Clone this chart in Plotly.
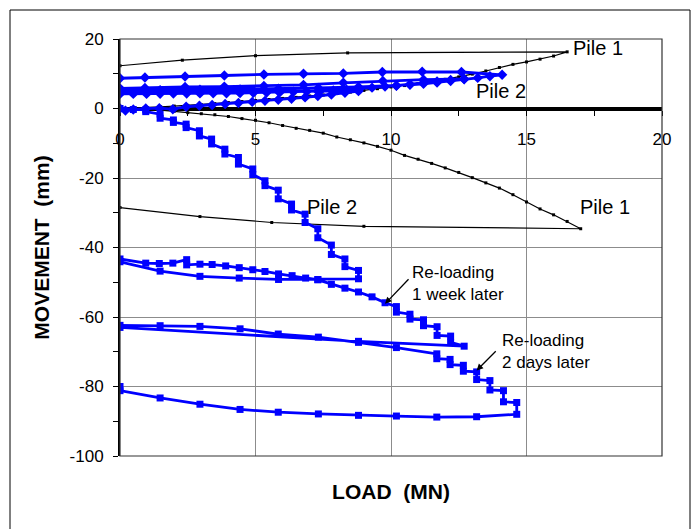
import plotly.graph_objects as go

# ---------------- data ----------------
# Pile 1, upward movement: loading in 0.5 MN steps, then unloading
P1_UP_LOAD_X = [0, 0.5, 1, 1.5, 2, 2.5, 3, 3.5, 4, 4.5, 5, 5.5, 6, 6.5, 7, 7.5, 8, 8.5,
                9, 9.5, 10, 10.5, 11, 11.5, 12, 12.5, 13, 13.5, 14, 14.5, 15, 15.5, 16, 16.5]
P1_UP_LOAD_Y = [0, 0.1, 0.3, 0.5, 0.7, 0.9, 1.1, 1.4, 1.7, 2.0, 2.3, 2.6, 2.9, 3.2, 3.6, 3.9, 4.3, 4.7,
                5.2, 5.7, 6.2, 6.6, 7.2, 7.8, 8.4, 9.1, 9.9, 10.8, 11.8, 12.7, 13.4, 14.2, 15.1, 16.3]
P1_UP_UNLOAD_X = [8.4, 5.0, 2.3, 0]
P1_UP_UNLOAD_Y = [16.0, 15.2, 13.9, 12.3]

# Pile 1, downward movement
P1_DN_LOAD_X = [0, 0.5, 1, 1.5, 2, 2.5, 3, 3.5, 4, 4.5, 5, 5.5, 6, 6.5, 7, 7.5, 8, 8.5,
                9, 9.5, 10, 10.5, 11, 11.5, 12, 12.5, 13, 13.5, 14, 14.5, 15, 15.5, 16, 16.5, 17]
P1_DN_LOAD_Y = [0, -0.1, -0.3, -0.5, -0.8, -1.2, -1.5, -1.8, -2.3, -2.9, -3.4, -4.1, -4.9, -5.7,
                -6.3, -7.1, -8.2, -9.0, -9.9, -10.9, -12.0, -13.5, -14.6, -15.8, -17.1, -18.4,
                -19.9, -21.4, -22.9, -24.8, -26.9, -28.9, -30.6, -32.5, -34.6]
P1_DN_UNLOAD_X = [9.0, 5.6, 2.95, 0]
P1_DN_UNLOAD_Y = [-33.9, -32.8, -31.1, -28.5]

# Pile 2, upward movement (three load cycles)
P2_UP_LOAD1_X = [0, 0.2, 0.49, 0.95, 1.45, 1.95, 2.44, 2.93, 3.4, 3.88, 4.37, 4.88, 5.35, 5.84,
                 6.33, 6.83, 7.3, 7.8, 8.3, 8.8]
P2_UP_LOAD1_Y = [0, -0.6, -0.3, 0.0, 0.1, -0.2, 0.5, 0.8, 1.0, 1.3, 1.6, 1.9, 2.2, 2.5,
                 2.8, 3.2, 3.6, 4.0, 4.5, 5.0]
P2_UP_UNLOAD1_X = [7.3, 5.85, 4.4, 2.95, 1.48, 0]
P2_UP_UNLOAD1_Y = [5.0, 4.9, 4.8, 4.8, 4.7, 4.7]
P2_UP_RELOAD1_X = [0, 0.49, 0.98, 1.48, 1.97, 2.46, 2.95, 3.44, 3.93, 4.43, 4.92, 5.41, 5.9, 6.4,
                   6.89, 7.38, 7.87, 8.36, 8.85, 9.3, 9.78, 10.2, 10.7, 11.2, 11.7, 12.2, 12.7]
P2_UP_RELOAD1_Y = [4.2, 4.2, 4.2, 4.25, 4.3, 4.3, 4.35, 4.4, 4.4, 4.45, 4.5, 4.6, 4.7, 4.8,
                   4.9, 5.0, 5.2, 5.4, 5.7, 6.0, 6.3, 6.6, 7.0, 7.4, 7.8, 8.2, 8.5]
P2_UP_UNLOAD2_X = [11.2, 9.7, 8.24, 6.77, 5.31, 3.85, 2.4, 0.92, 0]
P2_UP_UNLOAD2_Y = [8.3, 7.9, 7.4, 6.8, 6.5, 6.3, 6.2, 5.9, 5.8]
P2_UP_RELOAD2_X = [0, 1.48, 2.95, 4.43, 5.85, 7.32, 8.8, 10.2, 10.7, 11.2, 11.7, 12.2, 12.7,
                   13.2, 13.65, 14.1]
P2_UP_RELOAD2_Y = [5.2, 5.3, 5.4, 5.5, 5.7, 5.9, 6.2, 6.5, 6.8, 7.1, 7.5, 7.9, 8.4,
                   8.8, 9.3, 9.7]
P2_UP_UNLOAD3_X = [12.6, 11.15, 9.68, 8.24, 6.77, 5.31, 3.85, 2.4, 0.92, 0]
P2_UP_UNLOAD3_Y = [10.5, 10.6, 10.5, 10.1, 10.0, 9.8, 9.5, 9.2, 8.9, 8.7]

# Pile 2, downward movement (each load step: start and end of hold)
P2_DN_LOAD1_X = [0, 0.49, 0.95, 0.95, 1.48, 1.48, 1.97, 1.97, 2.44, 2.44, 2.93, 2.93, 3.38, 3.38,
                 3.87, 3.87, 4.37, 4.37, 4.9, 4.9, 5.35, 5.35, 5.84, 5.84, 6.33, 6.33, 6.83, 6.83,
                 7.3, 7.3, 7.8, 7.8, 8.3, 8.3, 8.8, 8.8]
P2_DN_LOAD1_Y = [0, -0.3, -0.4, -0.9, -1.6, -2.8, -3.3, -4.0, -4.5, -5.5, -6.4, -7.9, -8.8, -10.2,
                 -11.7, -13.1, -14.1, -16.0, -17.4, -19.0, -20.8, -22.2, -23.5, -26.0, -27.5, -29.2,
                 -30.4, -32.8, -34.6, -37.2, -39.3, -42.0, -43.3, -45.5, -46.6, -49.0]
P2_DN_UNLOAD1_X = [7.3, 5.85, 4.4, 2.95, 1.48, 0]
P2_DN_UNLOAD1_Y = [-49.2, -49.2, -48.8, -48.3, -46.8, -44.1]
P2_DN_RELOAD1_X = [0, 0.95, 1.45, 1.95, 2.46, 2.46, 2.95, 3.4, 3.9, 4.4, 4.9, 5.35, 5.85, 6.35,
                   6.85, 7.3, 7.8, 8.3, 8.8, 9.3, 9.78, 10.2, 10.2, 10.7, 10.7, 11.2, 11.2,
                   11.7, 11.7, 12.2, 12.2, 12.7]
P2_DN_RELOAD1_Y = [-43.3, -44.5, -44.6, -44.5, -43.5, -45.0, -44.8, -44.9, -45.3, -45.8, -46.4,
                   -46.9, -47.6, -48.1, -48.8, -49.3, -50.6, -51.7, -52.8, -54.2, -55.9, -57.0,
                   -58.6, -59.2, -60.6, -60.8, -62.5, -62.8, -65.3, -65.5, -67.3, -68.4]
P2_DN_UNLOAD2_X = [8.8, 0]
P2_DN_UNLOAD2_Y = [-67.0, -63.0]
P2_DN_RELOAD2_X = [0, 1.48, 2.95, 4.43, 5.84, 7.32, 8.8, 10.2, 11.69, 11.69, 12.18, 12.18,
                   12.67, 12.67, 13.16, 13.16, 13.65, 13.65, 14.15, 14.15, 14.64, 14.64]
P2_DN_RELOAD2_Y = [-62.4, -62.5, -62.7, -63.4, -64.9, -65.8, -67.3, -68.8, -70.6, -72.0, -72.2,
                   -73.7, -73.9, -75.6, -75.8, -78.0, -78.3, -81.0, -81.2, -84.4, -84.6, -88.0]
P2_DN_UNLOAD3_X = [13.16, 11.69, 10.2, 8.8, 7.32, 5.84, 4.43, 2.95, 1.48, 0, 0]
P2_DN_UNLOAD3_Y = [-88.7, -88.8, -88.5, -88.3, -87.9, -87.4, -86.6, -85.1, -83.3, -81.2, -80.0]

X_TICKS = [0, 5, 10, 15, 20]
Y_TICKS = [20, 0, -20, -40, -60, -80, -100]

# ---------------- figure ----------------
BLUE = "#0000FF"
FONT = "Liberation Sans, Arial, sans-serif"

fig = go.Figure()


def add_series(xs, ys, color, width, symbol, size, name, xaxis="x"):
    fig.add_trace(go.Scatter(
        x=xs, y=ys, mode="lines+markers", name=name, showlegend=False,
        line=dict(color=color, width=width),
        marker=dict(symbol=symbol, size=size, color=color, line=dict(width=0)),
        hoverinfo="skip", xaxis=xaxis,
    ))


add_series(P1_UP_LOAD_X + P1_UP_UNLOAD_X, P1_UP_LOAD_Y + P1_UP_UNLOAD_Y,
           "black", 1.2, "square", 3, "Pile 1 up")
add_series(P1_DN_LOAD_X + P1_DN_UNLOAD_X, P1_DN_LOAD_Y + P1_DN_UNLOAD_Y,
           "black", 1.2, "square", 3, "Pile 1 down")

p2_up_x = (P2_UP_LOAD1_X + P2_UP_UNLOAD1_X + P2_UP_RELOAD1_X + P2_UP_UNLOAD2_X
           + P2_UP_RELOAD2_X + P2_UP_UNLOAD3_X)
p2_up_y = (P2_UP_LOAD1_Y + P2_UP_UNLOAD1_Y + P2_UP_RELOAD1_Y + P2_UP_UNLOAD2_Y
           + P2_UP_RELOAD2_Y + P2_UP_UNLOAD3_Y)
add_series(p2_up_x, p2_up_y, BLUE, 2.8, "diamond", 8, "Pile 2 up")

p2_dn_x = (P2_DN_LOAD1_X + P2_DN_UNLOAD1_X + P2_DN_RELOAD1_X + P2_DN_UNLOAD2_X
           + P2_DN_RELOAD2_X + P2_DN_UNLOAD3_X)
p2_dn_y = (P2_DN_LOAD1_Y + P2_DN_UNLOAD1_Y + P2_DN_RELOAD1_Y + P2_DN_UNLOAD2_Y
           + P2_DN_RELOAD2_Y + P2_DN_UNLOAD3_Y)
add_series(p2_dn_x, p2_dn_y, BLUE, 2.8, "square", 7, "Pile 2 down")

# empty trace so the crossing x axis (at zero movement) is drawn
fig.add_trace(go.Scatter(x=[], y=[], xaxis="x2", showlegend=False, hoverinfo="skip"))

fig.update_layout(
    width=692, height=529,
    margin=dict(l=120, r=30, t=39, b=73),
    paper_bgcolor="white", plot_bgcolor="white",
    font=dict(family=FONT, color="black"),
    xaxis=dict(
        range=[0, 20], tickvals=X_TICKS, showticklabels=False, ticks="",
        showgrid=True, gridcolor="#8c8c8c", gridwidth=1,
        zeroline=False, showline=False,
        title=dict(text="<b>LOAD\u00a0\u00a0(MN)</b>", font=dict(size=21, family=FONT),
                   standoff=28),
    ),
    xaxis2=dict(
        overlaying="x", matches="x", anchor="free", position=100 / 120, side="bottom",
        range=[0, 20], tickvals=X_TICKS, ticktext=[str(v) for v in X_TICKS],
        ticks="outside", ticklen=5, tickcolor="black", tickwidth=1,
        minor=dict(ticks="outside", dtick=2.5, ticklen=5, tickcolor="black", showgrid=False),
        tickfont=dict(size=17, family=FONT), ticklabelstandoff=9,
        showgrid=False, zeroline=False,
        showline=True, linecolor="black", linewidth=4, layer="below traces",
    ),
    yaxis=dict(
        range=[-100, 20], tickvals=Y_TICKS, ticktext=[str(v) for v in Y_TICKS],
        ticks="outside", ticklen=5, tickcolor="black",
        minor=dict(ticks="outside", dtick=10, ticklen=5, tickcolor="black", showgrid=False),
        tickfont=dict(size=17, family=FONT), ticklabelstandoff=6,
        showgrid=True, gridcolor="#8c8c8c", gridwidth=1, zeroline=False,
        showline=True, linecolor="black", linewidth=2,
        title=dict(text="<b>MOVEMENT\u00a0\u00a0(mm)</b>", font=dict(size=21, family=FONT),
                   standoff=14),
    ),
    shapes=[
        # plot area border
        dict(type="rect", xref="paper", yref="paper", x0=0, y0=0, x1=1, y1=1,
             line=dict(color="#333333", width=1.2), layer="above"),
        # outer chart frame
        dict(type="rect", xref="paper", yref="paper",
             x0=(10 - 120) / 542, x1=(690 - 120) / 542,
             y0=(456 - 540) / 417, y1=(456 - 10) / 417,
             line=dict(color="black", width=1), layer="above"),
    ],
)

ann_font = dict(family=FONT, size=20, color="black")
note_font = dict(family=FONT, size=17, color="black")
annotations = [
    dict(x=16.65, y=17.3, text="Pile 1", xanchor="left", yanchor="middle", showarrow=False, font=ann_font),
    dict(x=13.05, y=5.0, text="Pile 2", xanchor="left", yanchor="middle", showarrow=False, font=ann_font),
    dict(x=6.83, y=-28.3, text="Pile 2", xanchor="left", yanchor="middle", showarrow=False, font=ann_font),
    dict(x=16.9, y=-28.3, text="Pile 1", xanchor="left", yanchor="middle", showarrow=False, font=ann_font),
    dict(x=10.7, y=-50.5, text="Re-loading<br>1 week later", xanchor="left", yanchor="middle",
         align="left", showarrow=False, font=note_font),
    dict(x=14.02, y=-69.9, text="Re-loading<br>2 days later", xanchor="left", yanchor="middle",
         align="left", showarrow=False, font=note_font),
    # arrows
    dict(x=9.78, y=-56.2, ax=10.7, ay=-48.7, xref="x", yref="y", axref="x", ayref="y",
         text="", showarrow=True, arrowhead=2, arrowsize=1, arrowwidth=1.3, arrowcolor="black"),
    dict(x=13.16, y=-75.4, ax=13.92, ay=-69.4, xref="x", yref="y", axref="x", ayref="y",
         text="", showarrow=True, arrowhead=2, arrowsize=1, arrowwidth=1.3, arrowcolor="black"),
]
fig.update_layout(annotations=annotations)

fig.write_html("out.html")
